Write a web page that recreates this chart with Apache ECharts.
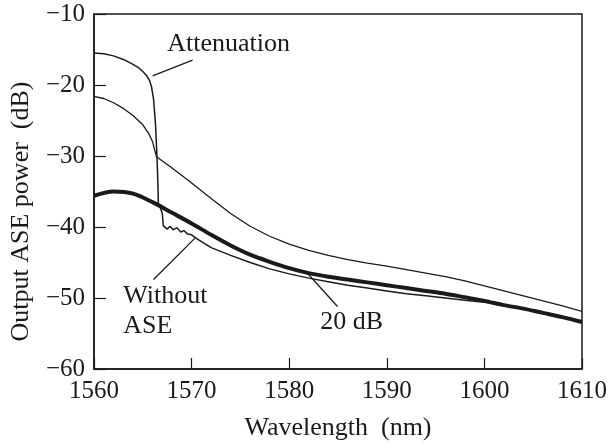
<!DOCTYPE html>
<html>
<head>
<meta charset="utf-8">
<script src="https://cdn.jsdelivr.net/npm/echarts@6/dist/echarts.min.js"></script>
<style>
  html, body { margin: 0; padding: 0; background: #fff; }
  #chart { width: 610px; height: 446px; }
</style>
</head>
<body>
<div id="chart"></div>
<script>
// wavelength (nm) / output ASE power (dB)
const attenuationCurve = [
  [1560, -15.5], [1561, -15.6], [1562, -15.9], [1563, -16.4], [1564, -17.1],
  [1564.6, -17.6], [1565, -18.1], [1565.4, -18.7], [1565.7, -19.4], [1565.9, -20.3],
  [1566.1, -22.0], [1566.3, -25.5], [1566.45, -30], [1566.55, -34], [1566.6, -36.9],
  [1566.8, -37.3], [1567.0, -38.1], [1567.1, -39.8], [1567.3, -39.6], [1567.5, -40.3],
  [1567.8, -39.9], [1568.1, -40.4], [1568.5, -40.1], [1568.9, -40.7], [1569.2, -40.5],
  [1569.6, -41.0], [1570.0, -41.1], [1570.6, -41.7], [1572, -42.9], [1574, -44.0],
  [1576, -45.0], [1578, -45.9], [1580, -46.6], [1582, -47.2], [1584, -47.7],
  [1586, -48.2], [1588, -48.6], [1590, -49.0], [1592, -49.4], [1594, -49.7],
  [1596, -50.0], [1598, -50.3], [1600, -50.6], [1602, -51.0], [1604, -51.5],
  [1606, -52.0], [1608, -52.6], [1610, -53.2]
];
const withoutAseCurve = [
  [1560, -21.6], [1561, -21.9], [1562, -22.5], [1563, -23.3], [1564, -24.3],
  [1565, -25.6], [1565.6, -26.8], [1566.0, -28.0], [1566.4, -30.1], [1568, -31.7],
  [1570, -33.8], [1572, -36.0], [1574, -38.1], [1576, -39.9], [1578, -41.3],
  [1580, -42.4], [1582, -43.3], [1584, -44.0], [1586, -44.6], [1588, -45.1],
  [1590, -45.5], [1592, -46.0], [1594, -46.5], [1596, -47.0], [1598, -47.6],
  [1600, -48.3], [1602, -49.0], [1604, -49.7], [1606, -50.4], [1608, -51.1],
  [1610, -51.9]
];
const db20Curve = [
  [1560, -35.6], [1562, -35.0], [1564, -35.3], [1566, -36.5], [1568, -38.0],
  [1570, -39.5], [1572, -41.1], [1574, -42.6], [1576, -43.9], [1578, -44.9],
  [1580, -45.8], [1582, -46.5], [1584, -47.0], [1586, -47.4], [1588, -47.8],
  [1590, -48.2], [1592, -48.6], [1594, -49.0], [1596, -49.4], [1598, -49.9],
  [1600, -50.4], [1602, -51.0], [1604, -51.5], [1606, -52.1], [1608, -52.7],
  [1610, -53.4]
];

// annotation text anchors and leader lines, in data space
const annotations = [
  { text: 'Attenuation', at: [1573.8, -14.2], align: 'center', leader: [[1570.1, -16.5], [1566.0, -18.7]] },
  { text: 'Without\nASE', at: [1563.0, -51.8], align: 'left', leader: [[1566.1, -47.4], [1570.4, -41.5]] },
  { text: '20 dB', at: [1586.4, -53.4], align: 'center', leader: [[1581.8, -46.4], [1584.95, -51.2]] }
];

const font = '"Liberation Serif", "Times New Roman", serif';
const ink = '#1a1a1a';

const chart = echarts.init(document.getElementById('chart'));

const minus = v => String(v).replace('-', '\u2212');

const lineSeries = (data, width, smooth) => ({
  type: 'line',
  data: data,
  showSymbol: false,
  smooth: smooth,
  lineStyle: { color: ink, width: width },
  silent: true,
  animation: false
});

const option = {
  animation: false,
  grid: {
    left: 93, top: 14, right: 26, bottom: 76,
    show: true, borderColor: ink, borderWidth: 1.5
  },
  xAxis: {
    type: 'value',
    min: 1560, max: 1610, interval: 10,
    name: 'Wavelength  (nm)',
    nameLocation: 'middle',
    nameGap: 46,
    nameTextStyle: { fontFamily: font, fontSize: 26, color: ink },
    axisLine: { lineStyle: { color: ink, width: 1.5 } },
    axisTick: { inside: true, length: 11, lineStyle: { color: ink, width: 1.2 } },
    axisLabel: { fontFamily: font, fontSize: 25, color: ink, margin: 10, formatter: v => String(v) },
    splitLine: { show: false }
  },
  yAxis: {
    type: 'value',
    min: -60, max: -10, interval: 10,
    name: 'Output ASE power  (dB)',
    nameLocation: 'middle',
    nameGap: 60,
    nameRotate: 90,
    nameTextStyle: { fontFamily: font, fontSize: 26, color: ink, padding: [0, 40, 0, 0] },
    axisLine: { lineStyle: { color: ink, width: 1.5 } },
    axisTick: { inside: true, length: 12, lineStyle: { color: ink, width: 1.2 } },
    axisLabel: { fontFamily: font, fontSize: 25, color: ink, margin: 9, formatter: minus },
    splitLine: { show: false }
  },
  series: [
    lineSeries(attenuationCurve, 1.5, false),
    lineSeries(withoutAseCurve, 1.3, false),
    lineSeries(db20Curve, 4, 0.3),
    {
      type: 'line',
      data: [],
      markLine: {
        silent: true,
        symbol: 'none',
        label: { show: false },
        lineStyle: { color: ink, width: 1.3, type: 'solid' },
        data: annotations.map(a => [{ coord: a.leader[0] }, { coord: a.leader[1] }])
      }
    }
  ]
};

chart.setOption(option);

// place the annotation texts at their data anchors
chart.setOption({
  graphic: annotations.map(a => {
    const p = chart.convertToPixel({ gridIndex: 0 }, a.at);
    return {
      type: 'text',
      x: p[0], y: p[1],
      style: {
        text: a.text,
        font: '26px ' + font,
        fill: ink,
        align: a.align,
        verticalAlign: 'middle',
        lineHeight: 30
      }
    };
  })
});
</script>
</body>
</html>
